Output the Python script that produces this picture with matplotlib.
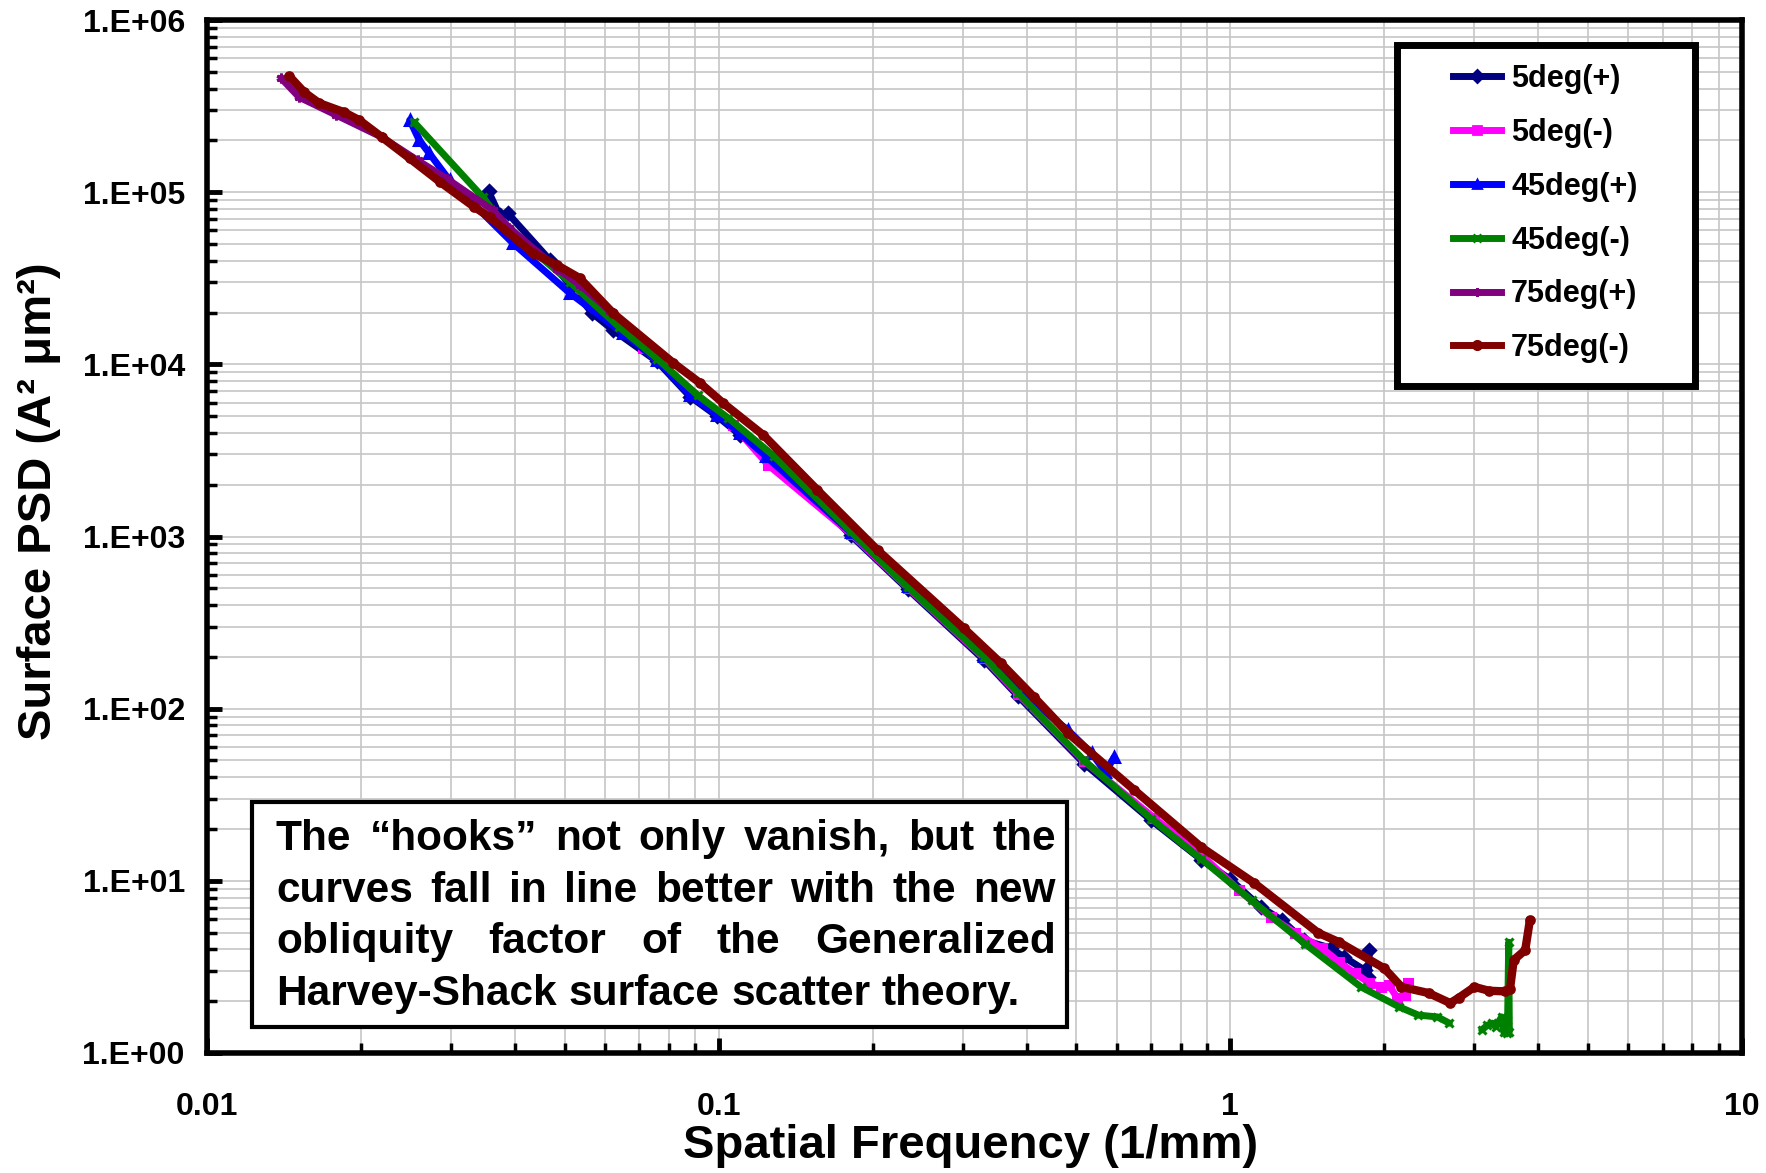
import numpy as np
import matplotlib
matplotlib.use("Agg")
import matplotlib.pyplot as plt
from matplotlib.ticker import LogLocator, FixedLocator, FuncFormatter, NullFormatter
from matplotlib.patches import Rectangle
from matplotlib.lines import Line2D

plt.rcParams["font.family"] = ["Liberation Sans", "DejaVu Sans"]
plt.rcParams["font.weight"] = "bold"

# ---- data: spatial frequency (1/mm) and surface PSD (A^2 um^2) ----
f_5p = [0.0355, 0.0373, 0.0387, 0.0468, 0.0566, 0.0622, 0.0758, 0.0879, 0.0993, 0.110,
        0.128, 0.181, 0.234, 0.330, 0.384, 0.518, 0.700, 0.877, 1.00, 1.146, 1.26,
        1.39, 1.57, 1.67, 1.83, 1.86, 1.87]
psd_5p = [1.01e5, 7.35e4, 7.55e4, 4.03e4, 1.98e4, 1.58e4, 1.04e4, 6.5e3, 5.0e3, 3.9e3,
          2.85e3, 1.02e3, 495, 192, 119, 48, 22.5, 13.3, 10.2, 7.05, 5.92,
          4.53, 4.07, 3.6, 3.03, 2.76, 3.96]

f_5m = [0.0535, 0.0711, 0.1067, 0.125, 0.181, 0.234, 0.330, 0.384, 0.518, 0.71, 0.88,
        1.04, 1.20, 1.34, 1.51, 1.63, 1.75, 1.87, 1.97, 2.04, 2.12, 2.19, 2.22]
psd_5m = [2.73e4, 1.24e4, 4.43e3, 2.6e3, 1.04e3, 505, 197, 122, 49.5, 23.2, 14.1,
          8.8, 6.16, 4.98, 4.07, 3.38, 2.91, 2.55, 2.42, 2.48, 2.09, 2.17, 2.55]

f_45p = [0.0249, 0.0260, 0.0272, 0.0298, 0.0396, 0.0512, 0.065, 0.0758, 0.0879, 0.0993,
         0.110, 0.1236, 0.181, 0.234, 0.330, 0.413, 0.4815, 0.536, 0.570, 0.593]
psd_45p = [2.62e5, 2.0e5, 1.68e5, 1.17e5, 5.06e4, 2.59e4, 1.52e4, 1.06e4, 6.62e3, 5.1e3,
           3.98e3, 2.93e3, 1.06e3, 515, 202, 108, 75, 55, 42.8, 52.4]

f_45m = [0.0254, 0.0346, 0.0385, 0.0512, 0.064, 0.0758, 0.091, 0.1045, 0.128, 0.181,
         0.234, 0.330, 0.384, 0.518, 0.70, 0.877, 1.10, 1.40, 1.80, 2.14, 2.33, 2.54,
         2.68, np.nan, 3.10, 3.18, 3.25, 3.30, 3.39, 3.42, 3.47, 3.48, 3.50, 3.51]
psd_45m = [2.55e5, 9.35e4, 6.18e4, 3.0e4, 1.64e4, 1.08e4, 6.6e3, 4.87e3, 2.95e3, 1.07e3,
           510, 200, 124, 50, 23, 13.4, 7.7, 4.3, 2.42, 1.85, 1.66, 1.62,
           1.49, np.nan, 1.36, 1.45, 1.49, 1.42, 1.62, 1.33, 1.55, 1.31, 4.4, 1.33]

f_75p = [0.01396, 0.01514, 0.0179, 0.0220, 0.0258, 0.0294, 0.0362, 0.0390, 0.0483,
         0.0535, 0.0612]
psd_75p = [4.59e5, 3.56e5, 2.8e5, 2.08e5, 1.53e5, 1.2e5, 7.85e4, 6.2e4, 3.6e4,
           2.9e4, 2.05e4]

f_75m = [0.01448, 0.0155, 0.01657, 0.0185, 0.01985, 0.0220, 0.0249, 0.0285, 0.0333,
         0.0357, 0.0433, 0.0483, 0.0535, 0.0622, 0.0815, 0.092, 0.102, 0.1223, 0.156,
         0.2044, 0.301, 0.356, 0.413, 0.4815, 0.649, 0.877, 1.114, 1.486, 1.63, 2.0,
         2.16, 2.44, 2.69, 2.8, 3.0, 3.2, 3.44, 3.52, 3.58, 3.77, 3.85]
psd_75m = [4.72e5, 3.8e5, 3.29e5, 2.92e5, 2.62e5, 2.08e5, 1.57e5, 1.15e5, 8.2e4,
           7.16e4, 4.43e4, 3.77e4, 3.17e4, 1.98e4, 1.02e4, 7.78e3, 5.96e3, 3.88e3, 1.86e3,
           834, 294, 184, 117, 72.2, 33.7, 15.7, 9.7, 4.98, 4.41, 3.1,
           2.42, 2.23, 1.95, 2.1, 2.42, 2.3, 2.28, 2.35, 3.47, 3.96, 5.92]

labels = ["5deg(+)", "5deg(-)", "45deg(+)", "45deg(-)", "75deg(+)", "75deg(-)"]
colors = ["#000080", "#ff00ff", "#0000ff", "#008000", "#800080", "#800000"]
markers = ["D", "s", "^", "x", (6, 2, 0), "o"]
xs = [f_5p, f_5m, f_45p, f_45m, f_75p, f_75m]
ys = [psd_5p, psd_5m, psd_45p, psd_45m, psd_75p, psd_75m]

note_lines = [
    "The \u201chooks\u201d not only vanish, but the",
    "curves fall in line better with the new",
    "obliquity factor of the Generalized",
    "Harvey-Shack surface scatter theory.",
]

# ---- figure ----
W, H = 1766, 1173
fig = plt.figure(figsize=(W / 100, H / 100), dpi=100)
fig.patch.set_facecolor("white")

def fx(px):
    return px / W

def fy(py):
    return 1 - py / H

ax_l, ax_r, ax_t, ax_b = 207, 1742, 20, 1053
ax = fig.add_axes([fx(ax_l), fy(ax_b), (ax_r - ax_l) / W, (ax_b - ax_t) / H])
ax.set_xscale("log")
ax.set_yscale("log")
ax.set_xlim(0.01, 10)
ax.set_ylim(1, 1e6)

ax.xaxis.set_major_locator(FixedLocator([0.01, 0.1, 1, 10]))
ax.xaxis.set_major_formatter(FuncFormatter(lambda v, p: f"{v:g}"))
ax.xaxis.set_minor_locator(LogLocator(base=10, subs=np.arange(2, 10), numticks=20))
ax.xaxis.set_minor_formatter(NullFormatter())
ax.yaxis.set_major_locator(LogLocator(base=10, numticks=10))
ax.yaxis.set_major_formatter(
    FuncFormatter(lambda v, p: f"1.E{int(round(np.log10(v))):+03d}"))
ax.yaxis.set_minor_locator(LogLocator(base=10, subs=np.arange(2, 10), numticks=20))
ax.yaxis.set_minor_formatter(NullFormatter())

ax.grid(True, which="both", color="#c6c6c6", lw=1.2)
ax.set_axisbelow(True)
for s in ax.spines.values():
    s.set_linewidth(4)
    s.set_color("black")
ax.tick_params(which="both", direction="in", top=False, right=False, colors="black")
ax.tick_params(which="major", length=11, width=3.5)
ax.tick_params(which="minor", length=7, width=2.5)
ax.tick_params(axis="y", which="major", pad=16, labelsize=23)
ax.tick_params(axis="x", which="major", pad=28, labelsize=23)
for t in ax.get_xticklabels() + ax.get_yticklabels():
    t.set_fontweight("bold")

handles = []
for x, y, c, m, lab in zip(xs, ys, colors, markers, labels):
    lw = 6 if lab == "75deg(-)" else 5
    if lab == "75deg(-)":
        ms = 5.5
    elif m in ("^", (6, 2, 0)):
        ms = 7
    else:
        ms = 6
    ln, = ax.plot(x, y, color=c, lw=lw, marker=m, ms=ms, mew=2.2,
                  mec=c, mfc=c, solid_capstyle="round", solid_joinstyle="round",
                  label=lab)
    handles.append(ln)

# axis titles
fig.text(fx(971), fy(1146), "Spatial Frequency (1/mm)", fontsize=34,
         fontweight="bold", ha="center", va="center")
fig.text(fx(39), fy(501), "Surface PSD (A\u00b2 \u03bcm\u00b2)", fontsize=34,
         fontweight="bold", ha="center", va="center", rotation=90)

# legend: framed box with the entries inside
fig.add_artist(Rectangle((fx(1397), fy(386)), (1695 - 1397) / W, (386 - 45) / H,
                         transform=fig.transFigure, facecolor="white",
                         edgecolor="black", lw=5, zorder=3))
leg_handles = [Line2D([], [], color=h.get_color(), lw=5, marker=h.get_marker(),
                      ms=6, mew=2, mec=h.get_color(), mfc=h.get_color())
               for h in handles]
fig.legend(leg_handles, labels, loc="upper left",
           bbox_to_anchor=(fx(1453), fy(64)), frameon=False, borderpad=0,
           borderaxespad=0, handlelength=1.57, handletextpad=0.33,
           labelspacing=0.78, prop={"size": 22, "weight": "bold"})

# annotation box with justified text
fig.add_artist(Rectangle((fx(252), fy(1027)), (1067 - 252) / W, (1027 - 802) / H,
                         transform=fig.transFigure, facecolor="white",
                         edgecolor="black", lw=3, zorder=3))
fig.canvas.draw()
renderer = fig.canvas.get_renderer()
left, right = 276, 1056
line_y = [839, 891, 942, 994]
fs_note = 30.5
for i, line in enumerate(note_lines):
    words = line.split()
    txts = [fig.text(0, 0, w, fontsize=fs_note, fontweight="bold", ha="left",
                     va="center", zorder=4) for w in words]
    widths = [t.get_window_extent(renderer).width for t in txts]
    if i == len(note_lines) - 1:
        sp = fig.text(0, 0, "a b", fontsize=fs_note, fontweight="bold")
        sp2 = fig.text(0, 0, "ab", fontsize=fs_note, fontweight="bold")
        gap = (sp.get_window_extent(renderer).width
               - sp2.get_window_extent(renderer).width)
        sp.remove()
        sp2.remove()
    else:
        gap = (right - left - sum(widths)) / (len(words) - 1)
    xpos = left
    for t, w in zip(txts, widths):
        t.set_position((fx(xpos), fy(line_y[i])))
        xpos += w + gap

fig.savefig("out.png", dpi=100)
